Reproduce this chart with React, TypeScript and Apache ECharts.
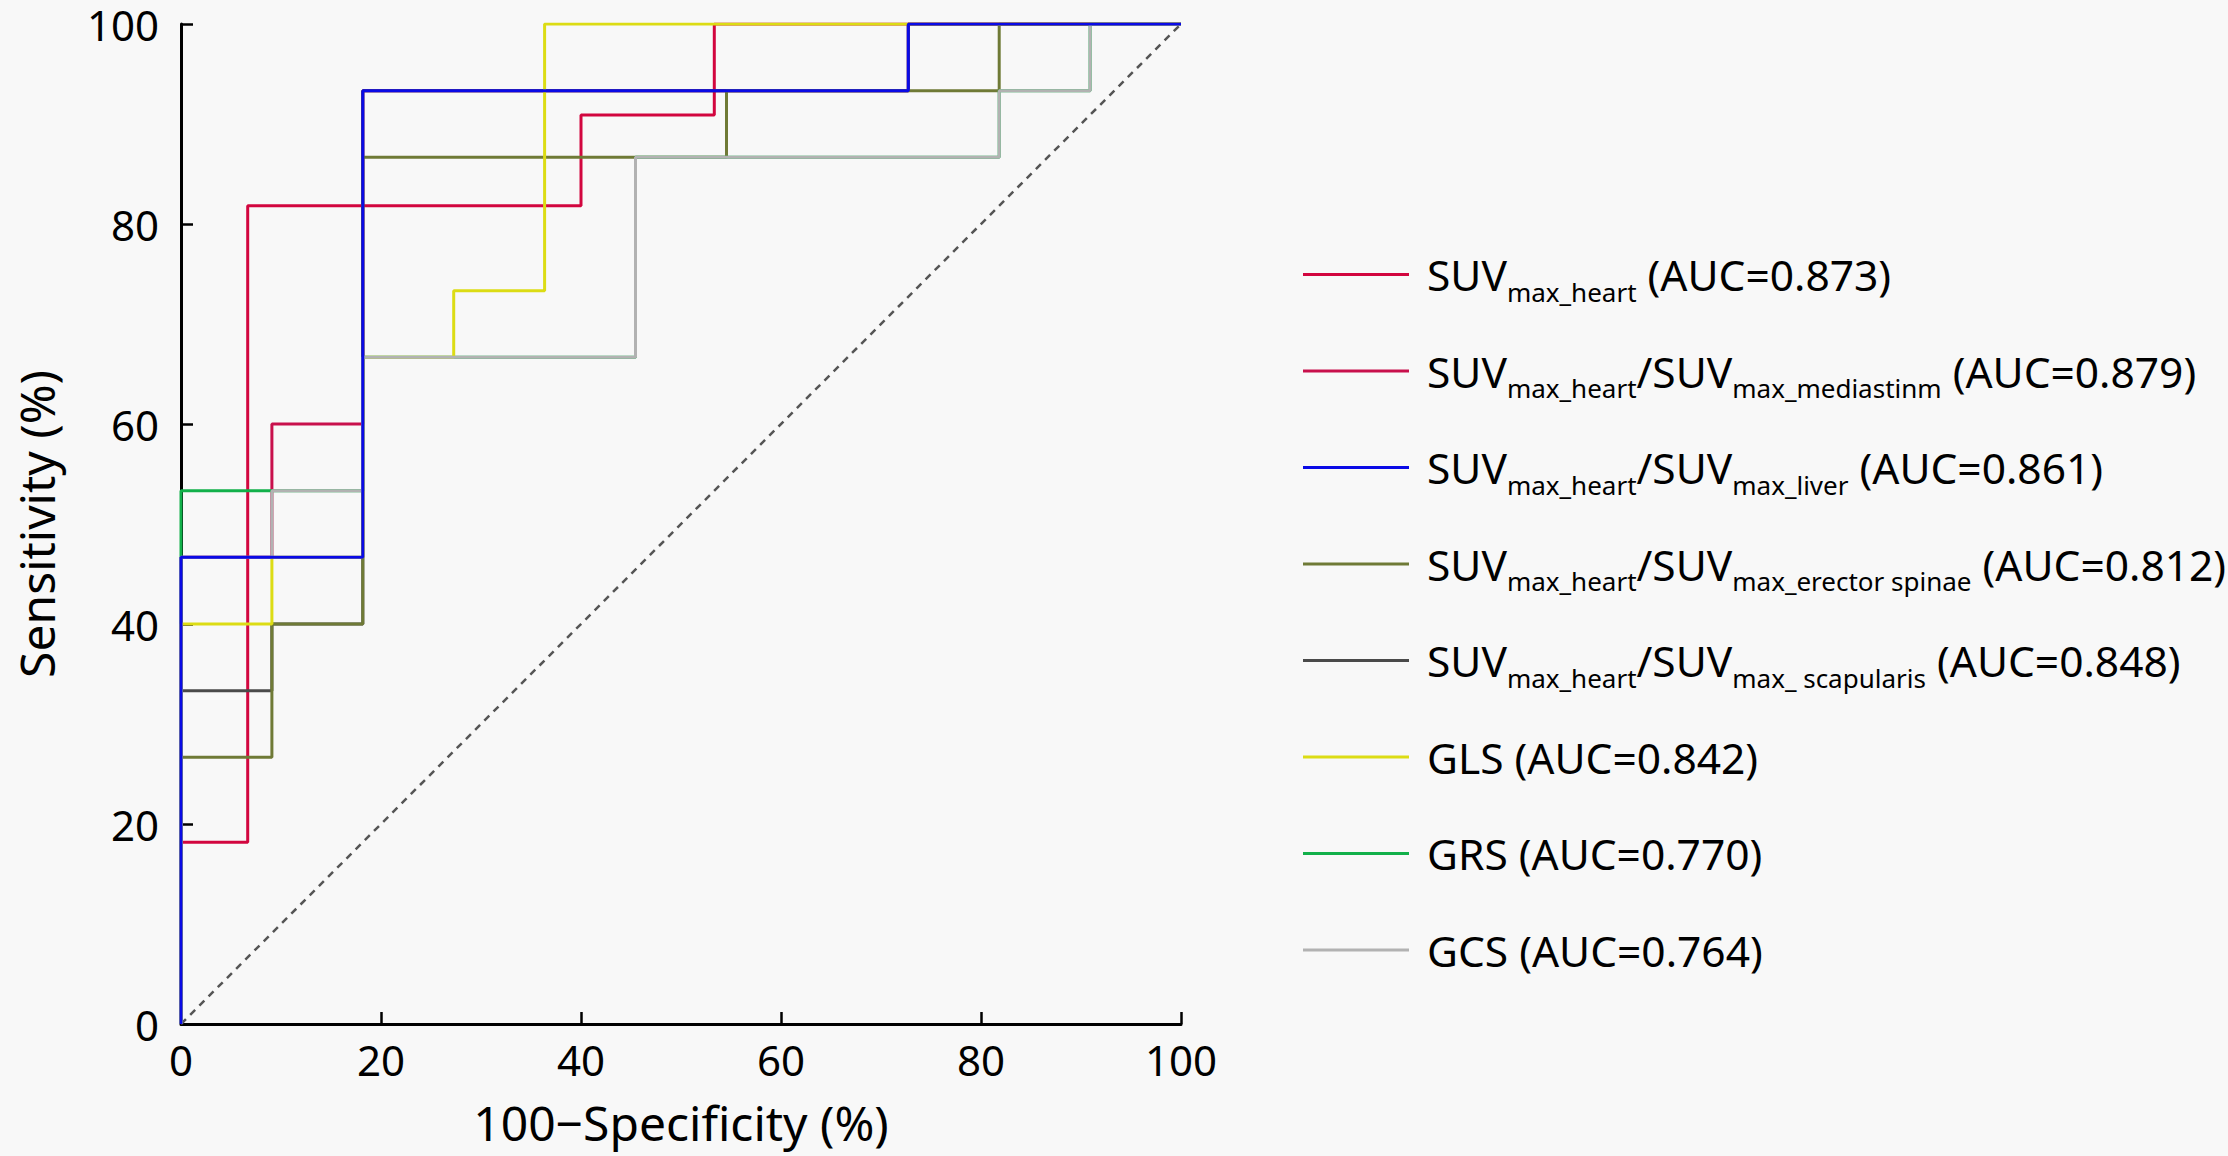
import React, { useEffect, useRef } from "react";
import * as echarts from "echarts";

// ---- data (ROC operating points, % units) ----
const axisTicks = [0, 20, 40, 60, 80, 100];

const heartFpr = [0, 0, 6.67, 40, 53.33, 100];
const heartTpr = [0, 18.18, 81.82, 90.91, 100, 100];

const mediastinumFpr = [0, 0, 9.09, 18.18, 72.73, 100];
const mediastinumTpr = [0, 46.67, 60, 93.33, 100, 100];

const liverFpr = [0, 0, 18.18, 72.73, 100];
const liverTpr = [0, 46.67, 93.33, 100, 100];

const erectorFpr = [0, 0, 9.09, 18.18, 54.55, 81.82, 100];
const erectorTpr = [0, 26.67, 40, 86.67, 93.33, 100, 100];

const scapularisFpr = [0, 0, 9.09, 18.18, 72.73, 100];
const scapularisTpr = [0, 33.33, 40, 93.33, 100, 100];

const glsFpr = [0, 0, 9.09, 18.18, 27.27, 36.36, 100];
const glsTpr = [0, 40, 46.67, 66.67, 73.33, 100, 100];

const grsFpr = [0, 0, 18.18, 45.45, 81.82, 90.91, 100];
const grsTpr = [0, 53.33, 66.67, 86.67, 93.33, 100, 100];

const gcsFpr = [0, 0, 9.09, 18.18, 45.45, 81.82, 90.91, 100];
const gcsTpr = [0, 46.67, 53.33, 66.67, 86.67, 93.33, 100, 100];

const refFpr = [0, 100];
const refTpr = [0, 100];

// legend order (as shown)
const seriesNames = [
  "SUVmax_heart (AUC=0.873)",
  "SUVmax_heart/SUVmax_mediastinm (AUC=0.879)",
  "SUVmax_heart/SUVmax_liver (AUC=0.861)",
  "SUVmax_heart/SUVmax_erector spinae (AUC=0.812)",
  "SUVmax_heart/SUVmax_ scapularis (AUC=0.848)",
  "GLS (AUC=0.842)",
  "GRS (AUC=0.770)",
  "GCS (AUC=0.764)",
];
// rich-text pieces for legend labels: [style, text]
const labelParts: [string, string][][] = [
  [["f", "SUV"], ["s", "max_heart"], ["m", " (AUC=0.873)"]],
  [["f", "SUV"], ["s", "max_heart"], ["m", "/SUV"], ["s", "max_mediastinm"], ["m", " (AUC=0.879)"]],
  [["f", "SUV"], ["s", "max_heart"], ["m", "/SUV"], ["s", "max_liver"], ["m", " (AUC=0.861)"]],
  [["f", "SUV"], ["s", "max_heart"], ["m", "/SUV"], ["s", "max_erector spinae"], ["m", " (AUC=0.812)"]],
  [["f", "SUV"], ["s", "max_heart"], ["m", "/SUV"], ["s", "max_ scapularis"], ["m", " (AUC=0.848)"]],
  [["f", "GLS (AUC=0.842)"], ["s", "\u00a0"]],
  [["f", "GRS (AUC=0.770)"], ["s", "\u00a0"]],
  [["f", "GCS (AUC=0.764)"], ["s", "\u00a0"]],
];
const seriesColors = ["#d2063f", "#c8104c", "#0a0ae6", "#6f7a36", "#4a4a4a", "#dcdc14", "#12b04a", "#b2b2b2"];
const seriesFpr = [heartFpr, mediastinumFpr, liverFpr, erectorFpr, scapularisFpr, glsFpr, grsFpr, gcsFpr];
const seriesTpr = [heartTpr, mediastinumTpr, liverTpr, erectorTpr, scapularisTpr, glsTpr, grsTpr, gcsTpr];
// drawing order (bottom -> top) as indices into the arrays above
const drawOrder = [0, 1, 4, 3, 6, 5, 7, 2];

const FONT = "Noto Sans";

export default function App() {
  const ref = useRef<HTMLDivElement>(null);
  useEffect(() => {
    if (!ref.current) return;
    const chart = echarts.init(ref.current, undefined, { renderer: "svg" });
    const zip = (xs: number[], ys: number[]) => xs.map((x, i) => [x, ys[i]]);

    const series: any[] = [
      {
        type: "line",
        name: "reference",
        data: zip(refFpr, refTpr),
        symbol: "none",
        lineStyle: { color: "#555", width: 2.5, type: [7, 6] },
        silent: true,
        z: 1,
      },
    ];
    drawOrder.forEach((i, k) => {
      series.push({
        type: "line",
        name: seriesNames[i],
        data: zip(seriesFpr[i], seriesTpr[i]),
        step: "end",
        symbol: "none",
        color: seriesColors[i],
        lineStyle: { color: seriesColors[i], width: 3 },
        z: 2 + k,
      });
    });

    const richLabel: Record<string, string> = {};
    seriesNames.forEach((n, i) => {
      richLabel[n] = labelParts[i].map(([s, t]) => `{${s}|${t}}`).join("");
    });

    chart.setOption({
      animation: false,
      backgroundColor: "#f8f8f8",
      grid: { left: 181, top: 24, width: 1000, height: 1000 },
      xAxis: {
        type: "value",
        min: 0,
        max: 100,
        interval: 20,
        name: "100\u2212Specificity (%)",
        nameLocation: "middle",
        nameGap: 74,
        nameTextStyle: { fontFamily: FONT, fontSize: 48, color: "#000" },
        axisLine: { lineStyle: { color: "#000", width: 3 } },
        axisTick: { inside: true, length: 12, lineStyle: { color: "#000", width: 2.5 } },
        axisLabel: { fontFamily: FONT, fontSize: 42, lineHeight: 42, color: "#000", margin: 14, customValues: axisTicks },
        splitLine: { show: false },
      },
      yAxis: {
        type: "value",
        min: 0,
        max: 100,
        interval: 20,
        name: "Sensitivity (%)",
        nameLocation: "middle",
        nameGap: 121,
        nameTextStyle: { fontFamily: FONT, fontSize: 48, color: "#000" },
        axisLine: { lineStyle: { color: "#000", width: 3 } },
        axisTick: { inside: true, length: 12, lineStyle: { color: "#000", width: 2.5 } },
        axisLabel: { fontFamily: FONT, fontSize: 42, lineHeight: 32, color: "#000", margin: 22 },
        splitLine: { show: false },
      },
      legend: {
        orient: "vertical",
        left: 1298,
        top: 248,
        itemGap: 45,
        itemWidth: 106,
        itemHeight: 3,
        icon: "rect",
        selectedMode: false,
        data: seriesNames,
        formatter: (name: string) => richLabel[name] || name,
        textStyle: {
          fontFamily: FONT,
          color: "#000",
          rich: {
            f: { fontFamily: FONT, fontSize: 42.5, lineHeight: 60, color: "#000", padding: [0, 0, 0, 13] },
            m: { fontFamily: FONT, fontSize: 42.5, lineHeight: 60, color: "#000" },
            s: { fontFamily: FONT, fontSize: 26, lineHeight: 8, verticalAlign: "bottom", color: "#000" },
          },
        },
      },
      series,
    });
    return () => chart.dispose();
  }, []);
  return (
    <div
      ref={ref}
      style={{ position: "fixed", left: 0, top: 0, width: 2228, height: 1156 }}
    />
  );
}
